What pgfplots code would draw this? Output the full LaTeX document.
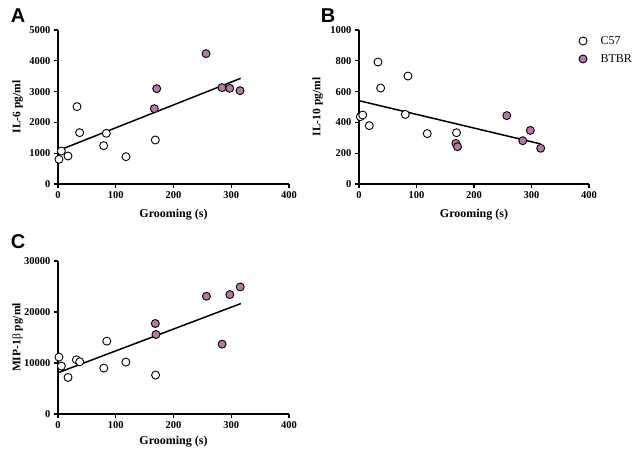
\documentclass[border=0pt]{standalone}
\usepackage{pgfplots}
\pgfplotsset{compat=1.18}
\usepackage{fontspec}
\setmainfont{Liberation Serif}
\newfontfamily\panelfont{Liberation Sans}
\definecolor{btbr}{RGB}{178,122,164}
\pgfplotsset{
  panel/.style={
    scale only axis,
    axis lines=left,
    axis line style={line width=1.6pt,-},
    x axis line style={-}, y axis line style={-},
    xmin=0, xmax=400, ymin=0,
    xtick={0,100,200,300,400},
    tick align=outside,
    major tick length=4pt,
    tick style={line width=1.2pt,black},
    tick label style={font=\fontsize{10.5}{12}\selectfont\bfseries},
    /pgf/number format/assume math mode=true,
    /pgf/number format/1000 sep={},
    scaled ticks=false,
    xlabel style={font=\fontsize{12}{14}\selectfont\bfseries, anchor=center},
    ylabel style={font=\fontsize{11.5}{13}\selectfont\bfseries, anchor=center},
    clip=false,
  },
  c57/.style={only marks, mark=*, mark size=4pt, mark options={fill=white, draw=black, line width=0.9pt}},
  bt/.style={only marks, mark=*, mark size=4pt, mark options={fill=btbr, draw=black, line width=0.9pt}},
  fit/.style={black, line width=1.5pt, mark=none},
}
\begin{document}
\begin{tikzpicture}
\path[use as bounding box] (0pt,0pt) rectangle (640pt,457pt);
% Panel A
\begin{axis}[panel, at={(58pt,273pt)}, anchor=south west, width=231pt, height=154pt,
  ymax=5000, ytick={0,1000,2000,3000,4000,5000},
  xlabel={Grooming (s)}, ylabel={IL-6 pg/ml},
  xlabel style={at={(axis description cs:0.5,-0.2)}},
  ylabel style={at={(axis description cs:-0.175,0.5)}}]
\addplot[c57] coordinates {(1.7,801) (5.8,1071) (17.3,909) (32.9,2511) (37.5,1667) (79,1245) (83.7,1645) (117.7,887) (168.5,1429)};
\addplot[bt] coordinates {(166.8,2446) (170.9,3095) (256.3,4232) (284,3128) (297.3,3106) (315.2,3030)};
\addplot[fit] coordinates {(0,1082) (316.3,3431)};
\end{axis}
% Panel B
\begin{axis}[panel, at={(359pt,273pt)}, anchor=south west, width=230pt, height=154pt,
  ymax=1000, ytick={0,200,400,600,800,1000},
  xlabel={Grooming (s)}, ylabel={IL-10 pg/ml},
  xlabel style={at={(axis description cs:0.5,-0.2)}},
  ylabel style={at={(axis description cs:-0.18,0.5)}}]
\addplot[c57] coordinates {(2.3,437) (6.4,448) (17.9,379) (33,792) (37.6,623) (80.5,452) (85.1,701) (118.7,327) (169.6,333)};
\addplot[bt] coordinates {(168.5,264) (171.3,242) (257,444) (284.8,281) (298,348) (316,232)};
\addplot[fit] coordinates {(0,541) (316,260)};
\end{axis}
% Panel C
\begin{axis}[panel, at={(58pt,43pt)}, anchor=south west, width=231pt, height=153pt,
  ymax=30000, ytick={0,10000,20000,30000},
  xlabel={Grooming (s)}, ylabel={MIP-1{\mdseries β} pg/ml},
  xlabel style={at={(axis description cs:0.5,-0.183)}},
  ylabel style={at={(axis description cs:-0.175,0.5)}}]
\addplot[c57] coordinates {(1.7,11152) (5.8,9391) (17.4,7174) (31.8,10630) (37.6,10239) (79.3,9000) (84.5,14283) (117.5,10174) (169,7630)};
\addplot[bt] coordinates {(168.5,17739) (169.6,15587) (257,23087) (284.2,13696) (297.5,23413) (315.5,24913)};
\addplot[fit] coordinates {(0,8087) (316.6,21652)};
\end{axis}
% legend
\draw[black, line width=0.9pt, fill=white] (583pt,416pt) circle (4pt);
\node[anchor=west, font=\fontsize{12}{14}\selectfont] at (597pt,416pt) {C57};
\draw[black, line width=0.9pt, fill=btbr] (583pt,398pt) circle (4pt);
\node[anchor=west, font=\fontsize{12}{14}\selectfont] at (597pt,398pt) {BTBR};
% panel letters
\node[font=\panelfont\bfseries\fontsize{20}{22}\selectfont] at (18pt,441pt) {A};
\node[font=\panelfont\bfseries\fontsize{20}{22}\selectfont] at (328pt,441pt) {B};
\node[font=\panelfont\bfseries\fontsize{20}{22}\selectfont] at (18pt,215pt) {C};
\end{tikzpicture}
\end{document}
